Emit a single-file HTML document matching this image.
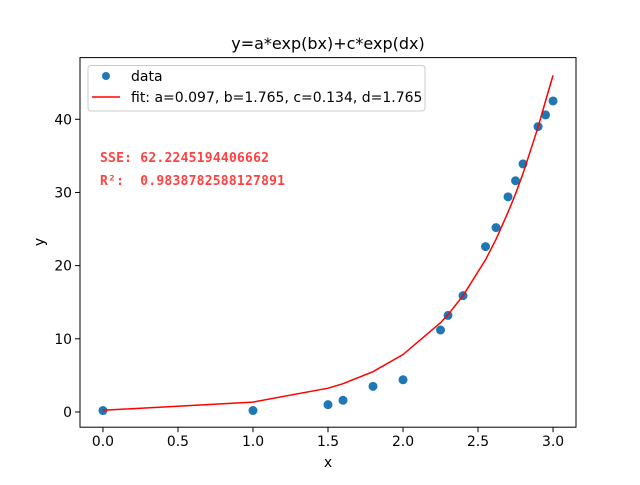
<!DOCTYPE html>
<html><head><meta charset="utf-8"><style>
body{margin:0;background:#fff;width:640px;height:480px;overflow:hidden}
svg text{font-family:"DejaVu Sans","Liberation Sans",sans-serif}
</style></head><body>
<svg id="chart" width="640" height="480" xmlns="http://www.w3.org/2000/svg">
<rect width="640" height="480" fill="#fff"/>
<text x="328" y="49" font-size="16" text-anchor="middle">y=a*exp(bx)+c*exp(dx)</text>
<g id="marks"></g>
<rect x="80" y="57.6" width="496" height="369.6" fill="none" stroke="#000" stroke-width="1"/>
<g id="ticks"></g>
<text x="328" y="467" font-size="14" text-anchor="middle">x</text>
<text x="44" y="242" font-size="14" text-anchor="middle" transform="rotate(-90 44 242)">y</text>
<g>
<rect x="88" y="65.5" width="337" height="45.5" rx="3" fill="#fff" fill-opacity="0.8" stroke="#ccc"/>
<circle cx="106" cy="76" r="4" fill="#1f77b4"/>
<text x="131" y="81" font-size="14">data</text>
<line x1="92" y1="97" x2="120" y2="97" stroke="red" stroke-width="1.5"/>
<text x="131" y="102" font-size="14">fit: a=0.097, b=1.765, c=0.134, d=1.765</text>
</g>
<text x="100" y="162" font-size="13" font-weight="bold" fill="#ff2020" fill-opacity="0.85" textLength="169" style="font-family:'DejaVu Sans Mono','Liberation Mono',monospace">SSE: 62.2245194406662</text>
<text x="100" y="185" font-size="13" font-weight="bold" fill="#ff2020" fill-opacity="0.85" textLength="185" style="font-family:'DejaVu Sans Mono','Liberation Mono',monospace" xml:space="preserve">R²:  0.9838782588127891</text>
</svg>
<script>
const xData=[0,1,1.5,1.6,1.8,2.0,2.25,2.3,2.4,2.55,2.62,2.7,2.75,2.8,2.9,2.95,3.0];
const yData=[0.2,0.2,1.0,1.6,3.5,4.4,11.2,13.2,15.9,22.6,25.2,29.4,31.6,33.9,39.0,40.6,42.5];
const yFit=[0.23,1.35,3.25,3.87,5.51,7.85,12.2,13.3,15.9,20.8,23.6,27.3,29.8,32.6,38.9,42.5,46.0];
const xTicks=[0,0.5,1.0,1.5,2.0,2.5,3.0];
const xTickLabels=["0.0","0.5","1.0","1.5","2.0","2.5","3.0"];
const yTicks=[0,10,20,30,40];
const yTickLabels=["0","10","20","30","40"];
const NS="http://www.w3.org/2000/svg";
const X0=80,X1=576,Y0=427.2,Y1=57.6,xmin=-0.153,xmax=3.153,ymin=-2.08,ymax=48.43;
function sx(v){return X0+(v-xmin)/(xmax-xmin)*(X1-X0);}
function sy(v){return Y0-(v-ymin)/(ymax-ymin)*(Y0-Y1);}
const marks=document.getElementById('marks'),ticks=document.getElementById('ticks');
function mk(tag,attrs,parent){const e=document.createElementNS(NS,tag);for(const k in attrs)e.setAttribute(k,attrs[k]);parent.appendChild(e);return e;}
xData.forEach((x,i)=>{
  const c=mk('circle',{cx:sx(x),cy:sy(yData[i]),r:4.5,fill:'#1f77b4'},marks);
  
  
});
const line=mk('polyline',{points:xData.map((x,i)=>sx(x)+','+sy(yFit[i])).join(' '),fill:'none',stroke:'red','stroke-width':1.5},marks);


xTicks.forEach((t,i)=>{
  const l=mk('line',{x1:sx(t),x2:sx(t),y1:Y0,y2:Y0+5,stroke:'#000'},ticks);
  
  
  const tx=mk('text',{x:sx(t),y:Y0+19,'font-size':13.9,'text-anchor':'middle'},ticks);
  tx.textContent=xTickLabels[i];
  
  
});
yTicks.forEach((t,i)=>{
  const l=mk('line',{x1:X0-5,x2:X0,y1:sy(t),y2:sy(t),stroke:'#000'},ticks);
  
  
  const tx=mk('text',{x:X0-8,y:sy(t)+5,'font-size':13.9,'text-anchor':'end'},ticks);
  tx.textContent=yTickLabels[i];
  
  
});
</script>
</body></html>
